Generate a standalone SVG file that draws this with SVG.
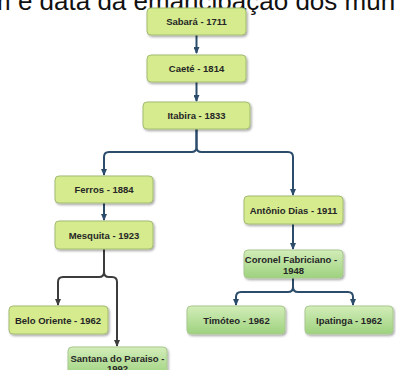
<svg xmlns="http://www.w3.org/2000/svg" width="396" height="370" viewBox="0 0 396 370">
<style>
.t{font-family:"Liberation Sans",Arial,sans-serif;font-weight:bold;font-size:9.5px;fill:#262626;text-anchor:middle}
.n1{fill:#d5eb8e;stroke:#a3bb72;stroke-width:1}
.n2{fill:url(#g2);stroke:#a8c98e;stroke-width:1}
.c{fill:none;stroke:#2b4c6b;stroke-width:2}
.k{fill:none;stroke:#3c3c3c;stroke-width:2}
.title{font-family:"Liberation Sans",Arial,sans-serif;font-size:26px;fill:#111}
</style>
<defs>
<linearGradient id="g2" x1="0" y1="0" x2="0" y2="1">
<stop offset="0" stop-color="#d3edb9"/>
<stop offset="1" stop-color="#9dd27e"/>
</linearGradient>
<filter id="sh" x="-10%" y="-10%" width="125%" height="140%">
<feDropShadow dx="1.2" dy="1.5" stdDeviation="0.8" flood-color="#000" flood-opacity="0.35"/>
</filter>
<marker id="ab" markerWidth="7" markerHeight="6" refX="6" refY="3" orient="auto" markerUnits="userSpaceOnUse">
<path d="M0,0 L7,3 L0,6 z" fill="#2b4c6b"/>
</marker>
<marker id="ak" markerWidth="7" markerHeight="6" refX="6" refY="3" orient="auto" markerUnits="userSpaceOnUse">
<path d="M0,0 L7,3 L0,6 z" fill="#3c3c3c"/>
</marker>
</defs>
<rect width="396" height="370" fill="#fff"/>
<text class="title" x="-11" y="10">m e data da emancipação dos municípios</text>

<g id="connectors">
<path class="c" d="M196.5 35 V53" marker-end="url(#ab)"/>
<path class="c" d="M196.5 82 V101" marker-end="url(#ab)"/>
<path class="c" d="M196.5 129 V147 Q196.5 152 191.5 152 H109 Q104 152 104 157 V175" marker-end="url(#ab)"/>
<path class="c" d="M196.5 129 V147 Q196.5 152 201.5 152 H288 Q293 152 293 157 V195" marker-end="url(#ab)"/>
<path class="c" d="M104 203 V220" marker-end="url(#ab)"/>
<path class="c" d="M293 224 V249" marker-end="url(#ab)"/>
<path class="k" d="M104 249 V272 Q104 277 99 277 H63 Q58 277 58 282 V305" marker-end="url(#ak)"/>
<path class="k" d="M104 249 V272 Q104 277 109 277 H112 Q117 277 117 282 V346" marker-end="url(#ak)"/>
<path class="c" d="M293 278 V287 Q293 292 288 292 H241 Q236 292 236 297 V305" marker-end="url(#ab)"/>
<path class="c" d="M293 278 V287 Q293 292 298 292 H348 Q353 292 353 297 V305" marker-end="url(#ab)"/>
</g>

<g id="sabara"><rect class="n1" x="147" y="8" width="99" height="27" rx="4" filter="url(#sh)"/><text class="t" x="196.5" y="25">Sabará - 1711</text></g>
<g id="caete"><rect class="n1" x="147" y="55" width="99" height="27" rx="4" filter="url(#sh)"/><text class="t" x="196.5" y="72">Caeté - 1814</text></g>
<g id="itabira"><rect class="n1" x="143" y="102" width="107" height="27" rx="4" filter="url(#sh)"/><text class="t" x="196.5" y="119">Itabira - 1833</text></g>
<g id="ferros"><rect class="n1" x="55" y="176" width="98" height="27" rx="4" filter="url(#sh)"/><text class="t" x="104" y="193">Ferros - 1884</text></g>
<g id="mesquita"><rect class="n1" x="55" y="221" width="98" height="28" rx="4" filter="url(#sh)"/><text class="t" x="104" y="238.5">Mesquita - 1923</text></g>
<g id="antonio-dias"><rect class="n1" x="244" y="196" width="99" height="28" rx="4" filter="url(#sh)"/><text class="t" x="293.5" y="213.5">Antônio Dias - 1911</text></g>
<g id="coronel-fabriciano"><rect class="n2" x="244" y="250" width="99" height="28" rx="4" filter="url(#sh)"/><text class="t" x="291" y="263">Coronel Fabriciano -</text><text class="t" x="293.5" y="273.5">1948</text></g>
<g id="belo-oriente"><rect class="n1" x="9" y="306" width="99" height="28" rx="4" filter="url(#sh)"/><text class="t" x="58" y="323.5">Belo Oriente - 1962</text></g>
<g id="santana-do-paraiso"><rect class="n2" x="68" y="347" width="99" height="30" rx="4" filter="url(#sh)"/><text class="t" x="117.5" y="361.5">Santana do Paraiso -</text><text class="t" x="117.5" y="372">1992</text></g>
<g id="timoteo"><rect class="n2" x="187" y="306" width="98" height="28" rx="4" filter="url(#sh)"/><text class="t" x="236.5" y="323.5">Timóteo - 1962</text></g>
<g id="ipatinga"><rect class="n2" x="305" y="306" width="88" height="28" rx="4" filter="url(#sh)"/><text class="t" x="349" y="323.5">Ipatinga - 1962</text></g>
</svg>
